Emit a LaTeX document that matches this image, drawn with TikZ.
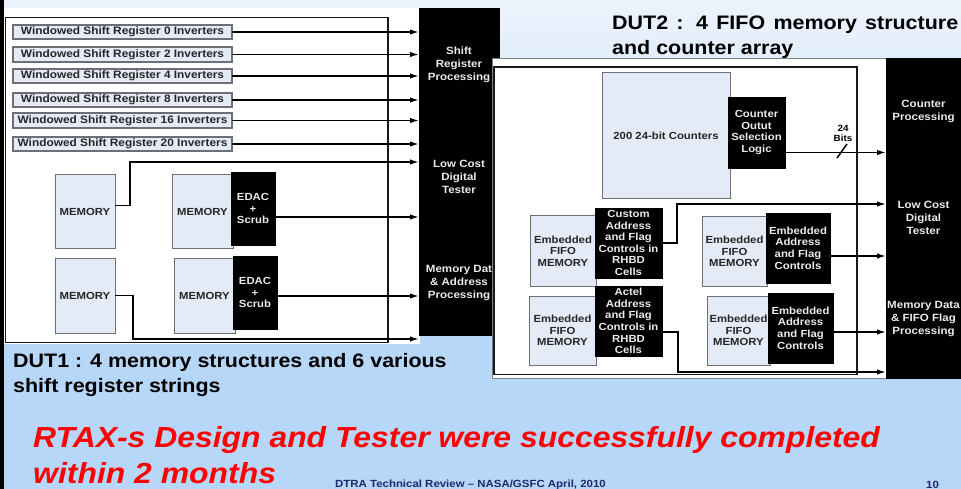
\documentclass[tikz,border=0pt]{standalone}
\usepackage{fontspec}
\setmainfont{Liberation Sans}[FakeStretch=1.1]
\usetikzlibrary{arrows.meta}
\definecolor{bgtop}{RGB}{236,243,252}
\definecolor{bgbot}{RGB}{183,215,249}
\definecolor{boxfill}{RGB}{228,234,246}
\definecolor{boxline}{RGB}{110,110,118}
\definecolor{navy}{RGB}{30,40,110}
\definecolor{bartext}{RGB}{235,235,235}
\tikzset{
 lbox/.style={draw=boxline, fill=boxfill, line width=1pt, inner sep=0pt, outer sep=0pt, align=center, text=black!85, font=\fontsize{10.3}{11.6}\selectfont\bfseries},
 srbox/.style={lbox, line width=1.6pt, font=\fontsize{10.8}{12}\selectfont\bfseries},
 blk/.style={fill=black, draw=black, inner sep=0pt, outer sep=0pt, align=center, text=bartext, font=\fontsize{10.3}{11.6}\selectfont\bfseries},
 barlbl/.style={text=bartext, align=center, inner sep=0pt, font=\fontsize{10.5}{13}\selectfont\bfseries},
 arr/.style={line width=1.5pt, -{Latex[length=9pt,width=5.5pt]}},
 wire/.style={line width=1.5pt},
 frame/.style={line width=1.6pt, draw=black!90},
 title/.style={anchor=base west, inner sep=0pt, text=black, font=\fontsize{19.5}{25}\selectfont\bfseries},
 redtitle/.style={anchor=base west, inner sep=0pt, text=red, font=\fontsize{29}{35}\selectfont\bfseries\itshape},
 foot/.style={anchor=base west, inner sep=0pt, text=navy, font=\fontsize{10.4}{12}\selectfont\bfseries},
}
\newcommand\mkbox[7]{\node[#6, minimum width={#4-#2}, minimum height={#5-#3}] (#1) at ({(#2+#4)/2},{(#3+#5)/2}) {#7};}
\begin{document}
\begin{tikzpicture}[x=1pt,y=-1pt]
\useasboundingbox (0,0) rectangle (961,489);
\shade[top color=bgtop, bottom color=bgbot] (0,0) rectangle (961,345);
\fill[bgbot] (0,344) rectangle (961,489);
\fill[black] (0,0) rectangle (4,489);
% level coordinates
\coordinate (y162) at (0,162);
\coordinate (y217) at (0,217);
\coordinate (y296) at (0,296);
\coordinate (y339) at (0,339);
\coordinate (y152) at (0,152.5);
\coordinate (y204) at (0,204);
\coordinate (y256) at (0,256);
\coordinate (y332) at (0,332);
\coordinate (y372) at (0,372);
% ---------------- DUT1
\fill[white] (4,8) rectangle (420,344);
\draw[frame] (5.5,17.5) rectangle (388,342.5);
\mkbox{bar1}{419}{8}{499}{335}{blk}{}
\node[barlbl] (b1a) at (459,65) {Shift\\Register\\Processing};
\node[barlbl] (b1b) at (459,176.5) {Low Cost\\Digital\\Tester};
\node[barlbl] (b1c) at (459,283) {Memory Dat\\\& Address\\Processing};
\mkbox{sr0}{13}{25}{232}{39}{srbox}{Windowed Shift Register 0 Inverters}
\mkbox{sr2}{13}{47}{232}{62}{srbox}{Windowed Shift Register 2 Inverters}
\mkbox{sr4}{13}{69}{232}{83}{srbox}{Windowed Shift Register 4 Inverters}
\mkbox{sr8}{13}{93}{232}{107}{srbox}{Windowed Shift Register 8 Inverters}
\mkbox{sr16}{13}{113}{232}{128}{srbox}{Windowed Shift Register 16 Inverters}
\mkbox{sr20}{13}{137}{232}{151}{srbox}{Windowed Shift Register 20 Inverters}
\foreach \n in {sr0,sr2,sr4,sr8,sr16,sr20}
  \draw[arr] (\n.east) -- (\n.east -| bar1.west);
\mkbox{m1}{55}{175}{115}{248}{lbox}{MEMORY}
\mkbox{m2}{172}{175}{233}{248}{lbox}{MEMORY}
\mkbox{e1}{231}{172}{275}{245}{blk}{EDAC\\+\\Scrub}
\mkbox{m3}{55}{258}{115}{333}{lbox}{MEMORY}
\mkbox{m4}{174}{258}{235}{333}{lbox}{MEMORY}
\mkbox{e2}{233}{256}{277}{329}{blk}{EDAC\\+\\Scrub}
\draw[arr] ([yshift=6pt]m1.east) -- ++(15,0) |- (bar1.west |- y162);
\draw[arr] ([yshift=-8.5pt]e1.east) -- (bar1.west |- y217);
\draw[arr] ([yshift=-3.5pt]e2.east) -- (bar1.west |- y296);
\draw[arr] (m3.east) -- ++(18,0) |- (bar1.west |- y339);
% ---------------- DUT2
\fill[white, draw=gray] (492,58) rectangle (961,378);
\draw[frame] (494,67) rectangle (857,374.5);
\mkbox{bar2}{886}{58}{961}{378}{blk}{}
\node[barlbl] (b2a) at (923.5,111) {Counter\\Processing};
\node[barlbl] (b2b) at (923.5,218) {Low Cost\\Digital\\Tester};
\node[barlbl] (b2c) at (923.5,319) {Memory Data\\\& FIFO Flag\\Processing};
\mkbox{cnt}{602}{73}{730}{199}{lbox}{200 24-bit Counters}
\mkbox{logic}{728}{97}{785}{168}{blk}{Counter\\Outut\\Selection\\Logic}
\draw[arr] ([yshift=-20pt]logic.east) -- (bar2.west |- y152);
\draw[wire] (837,158) -- (847,144);
\node[align=center, inner sep=0pt, font=\fontsize{9}{10}\selectfont\bfseries] (bits) at (843,133) {24\\Bits};
\mkbox{f1}{530}{216}{596}{286}{lbox}{Embedded\\FIFO\\MEMORY}
\mkbox{c1}{595}{208}{662}{278}{blk}{Custom\\Address\\and Flag\\Controls in\\RHBD\\Cells}
\mkbox{f2}{529}{296}{596}{365}{lbox}{Embedded\\FIFO\\MEMORY}
\mkbox{c2}{595}{286}{662}{356}{blk}{Actel\\Address\\and Flag\\Controls in\\RHBD\\Cells}
\mkbox{f3}{702}{217}{767}{286}{lbox}{Embedded\\FIFO\\MEMORY}
\mkbox{c3}{766}{213}{830}{283}{blk}{Embedded\\Address\\and Flag\\Controls}
\mkbox{f4}{707}{296}{770}{365}{lbox}{Embedded\\FIFO\\MEMORY}
\mkbox{c4}{768}{293}{833}{363}{blk}{Embedded\\Address\\and Flag\\Controls}
\draw[arr] (c1.east) -- ++(15,0) |- (bar2.west |- y204);
\draw[arr] ([yshift=-8pt]c3.east) -- (bar2.west |- y256);
\draw[arr] ([yshift=-11pt]c2.east) -- ++(16,0) |- (bar2.west |- y372);
\draw[arr] ([yshift=-4pt]c4.east) -- (bar2.west |- y332);
% ---------------- titles
\node[title] (t1a) at (13,367) {DUT1 : 4 memory structures and 6 various};
\node[title] (t1b) at (13,392) {shift register strings};
\node[title] (t2a) at (612,30) {\makebox[346pt][s]{DUT2 : 4 FIFO memory structure}};
\node[title] (t2b) at (612,55) {and counter array};
\node[redtitle] (r1) at (33,447) {RTAX-s Design and Tester were successfully completed};
\node[redtitle] (r2) at (33,483) {within 2 months};
\node[foot] (ft) at (335,487) {DTRA Technical Review -- NASA/GSFC April, 2010};
\node[foot] (pg) at (926,488) {10};
\end{tikzpicture}
\end{document}
